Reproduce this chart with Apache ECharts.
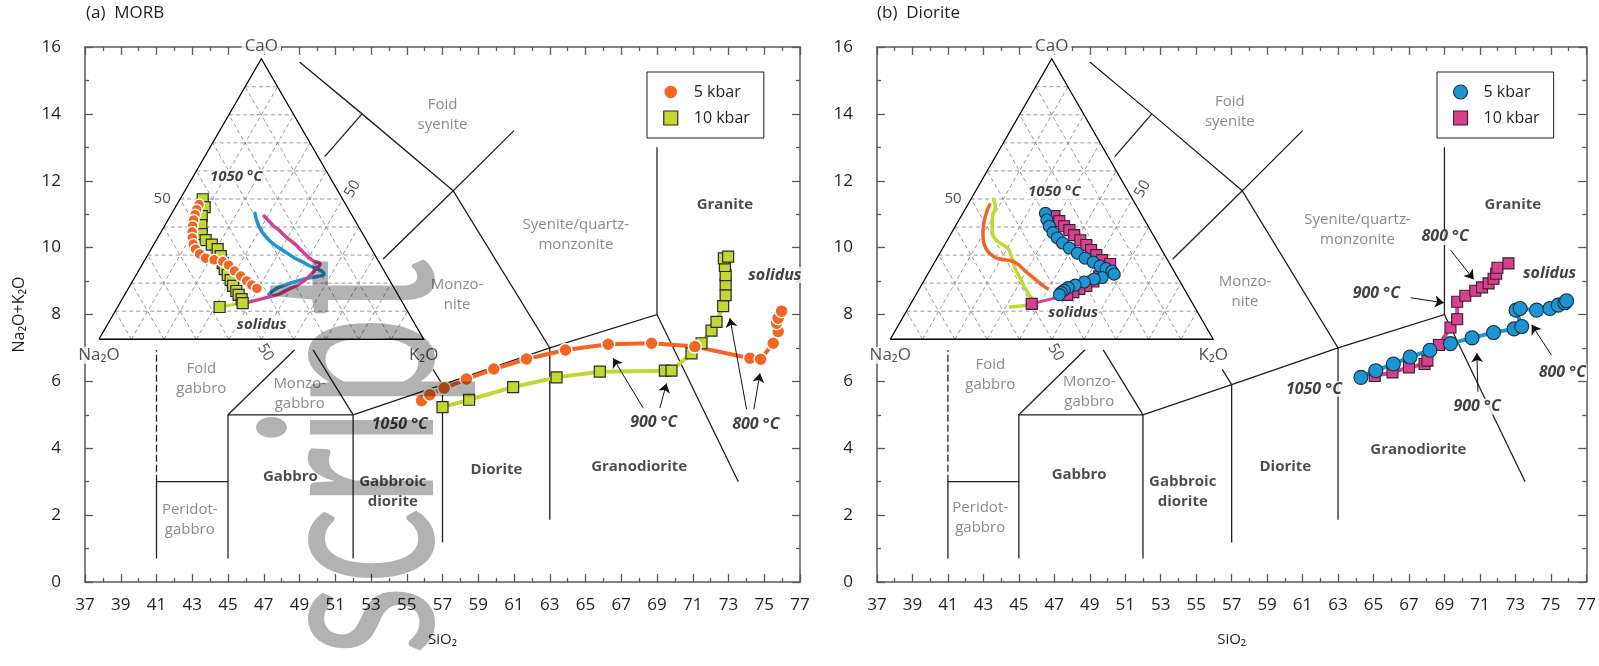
<!DOCTYPE html>
<html>
<head>
<meta charset="utf-8">
<title>Melt evolution on the plutonic TAS diagram</title>
<script src="https://cdn.jsdelivr.net/npm/echarts@6/dist/echarts.min.js"></script>
<style>
  html, body { margin: 0; padding: 0; background: #ffffff; }
  #chart { width: 1599px; height: 666px; }
</style>
</head>
<body>
<div id="chart"></div>
<script>
// ---------------- axis ticks ----------------
const silicaTicks = [37, 39, 41, 43, 45, 47, 49, 51, 53, 55, 57, 59, 61, 63, 65, 67, 69, 71, 73, 75, 77];
const silicaMinorTicks = [38, 40, 42, 44, 46, 48, 50, 52, 54, 56, 58, 60, 62, 64, 66, 68, 70, 72, 74, 76];
const alkaliRange = [0, 16];

// ---------------- melt compositions on the TAS plot: [SiO2 wt%, Na2O+K2O wt%] ----------------
const morb5kbar = [[55.83, 5.42], [56.29, 5.60], [57.09, 5.80], [58.34, 6.07], [59.87, 6.37], [61.70, 6.67],
  [63.88, 6.94], [66.27, 7.11], [68.70, 7.14], [71.12, 7.04], [74.20, 6.69], [74.80, 6.66], [75.50, 7.14],
  [75.78, 7.49], [75.69, 7.74], [75.78, 7.89], [75.97, 8.10]];
const morb10kbar = [[57.00, 5.23], [58.49, 5.45], [60.95, 5.83], [63.38, 6.12], [65.80, 6.29], [69.44, 6.32],
  [69.81, 6.32], [70.93, 6.84], [71.49, 7.14], [72.05, 7.52], [72.33, 7.78], [72.70, 8.25], [72.84, 8.58],
  [72.84, 8.90], [72.84, 9.18], [72.80, 9.45], [72.74, 9.68], [72.98, 9.73]];
const diorite5kbar = [[64.29, 6.12], [65.13, 6.32], [66.12, 6.52], [67.06, 6.73], [68.18, 6.93], [69.34, 7.13],
  [70.56, 7.30], [71.77, 7.46], [72.93, 7.57], [73.36, 7.64], [73.04, 8.13], [73.27, 8.18], [74.20, 8.13],
  [74.95, 8.18], [75.42, 8.28], [75.79, 8.35], [75.89, 8.41]];
const diorite10kbar = [[65.07, 6.16], [66.07, 6.27], [67.00, 6.42], [67.88, 6.52], [68.04, 6.62], [68.69, 7.09],
  [69.34, 7.61], [69.72, 7.86], [69.72, 8.38], [70.18, 8.56], [70.74, 8.71], [71.12, 8.81], [71.49, 8.93],
  [71.77, 9.07], [71.92, 9.22], [71.99, 9.40], [72.61, 9.53]];

// ---------------- melt compositions on the CaO-Na2O-K2O ternary: [CaO %, K2O %] (Na2O = rest) ----------------
const morb5kbarTern = [[48.0, 6.8], [46.2, 7.0], [44.4, 7.4], [42.5, 7.9], [40.3, 8.7], [38.2, 9.6], [36.1, 10.7],
  [33.9, 12.1], [32.1, 13.7], [30.4, 15.8], [28.9, 18.4], [28.3, 21.3], [27.7, 24.3], [26.4, 26.7], [24.3, 29.6],
  [22.5, 32.4], [20.8, 35.1], [19.3, 37.4], [18.1, 39.6]];
const morb10kbarTern = [[49.9, 7.0], [47.1, 9.0], [43.9, 9.7], [40.7, 11.2], [37.5, 12.9], [35.3, 15.2],
  [33.7, 17.9], [32.1, 20.5], [29.6, 22.7], [27.2, 24.5], [25.0, 26.2], [22.9, 28.2], [21.1, 30.0], [19.0, 31.8],
  [17.2, 33.7], [15.8, 35.1], [14.3, 36.8], [12.9, 37.8], [11.5, 31.4]];
const diorite5kbarTern = [[44.9, 25.6], [42.6, 27.2], [40.3, 29.1], [38.0, 31.4], [36.1, 33.7], [34.3, 36.2],
  [32.5, 39.2], [30.7, 42.6], [28.9, 45.9], [27.5, 49.1], [26.1, 51.9], [25.2, 54.2], [24.3, 56.5], [23.2, 57.7],
  [22.0, 54.6], [21.5, 52.4], [20.4, 49.9], [19.3, 47.6], [18.4, 45.9], [17.5, 45.1], [16.7, 44.6], [15.9, 44.4]];
const diorite10kbarTern = [[43.9, 28.9], [42.1, 31.3], [40.3, 33.7], [38.9, 36.0], [37.1, 38.4], [35.3, 41.2],
  [33.6, 43.9], [31.8, 46.3], [30.0, 48.8], [28.2, 51.5], [26.8, 54.7], [24.3, 54.1], [22.4, 53.5], [20.6, 52.6],
  [19.0, 51.2], [17.9, 49.6], [16.8, 48.3], [15.8, 46.9], [12.6, 37.5]];

// ---------------- field boundaries of the plutonic classification (SiO2, Na2O+K2O) ----------------
const fieldLines = [
  [[41, 0.7], [41, 3], [45, 3]],
  [[45, 0.7], [45, 5], [52, 5], [52, 0.7]],
  [[45, 5], [48.72, 6.94]],
  [[52, 5], [49.76, 6.94]],
  [[52, 5], [57, 5.9], [63, 7], [69, 8], [69, 13]],
  [[57, 1.18], [57, 5.9], [56.47, 6.36]],
  [[63, 1.86], [63, 7], [57.6, 11.7], [61, 13.5]],
  [[53.68, 9.66], [57.6, 11.7]],
  [[49, 15.55], [52.5, 14], [57.6, 11.7]],
  [[52.5, 14], [50.41, 12.72]],
  [[69, 8], [73.55, 3.0]]
];
const fieldDashed = [[[41, 3], [41, 6.94]]];

// ---------------- placement of the ternary inset inside each plot (axis units) ----------------
const TRI_A = { x0: 37.78, w: 18.17, y0: 7.26, h: 8.39 };
const TRI_B = { x0: 37.75, w: 18.21, y0: 7.26, h: 8.39 };

// ---------------- text annotations ----------------
const fieldNamesA = [
  { text: 'Foid\nsyenite', at: [57.0, 13.97], kind: 'field' },
  { text: 'Syenite/quartz-\nmonzonite', at: [64.46, 10.38], kind: 'field' },
  { text: 'Monzo-\nnite', at: [57.82, 8.58], kind: 'field' },
  { text: 'Granite', at: [72.8, 11.27], kind: 'fieldBold' },
  { text: 'Foid\ngabbro', at: [43.51, 6.09], kind: 'field' },
  { text: 'Monzo-\ngabbro', at: [49.01, 5.62], kind: 'field' },
  { text: 'Gabbro', at: [48.49, 3.14], kind: 'fieldBold' },
  { text: 'Gabbroic\ndiorite', at: [54.22, 2.70], kind: 'fieldBold' },
  { text: 'Peridot-\ngabbro', at: [42.86, 1.85], kind: 'field' },
  { text: 'Diorite', at: [60.02, 3.35], kind: 'fieldBold' },
  { text: 'Granodiorite', at: [68.0, 3.45], kind: 'fieldBold' }
];
const fieldNamesB = [
  { text: 'Foid\nsyenite', at: [56.9, 14.07], kind: 'field' },
  { text: 'Syenite/quartz-\nmonzonite', at: [64.1, 10.53], kind: 'field' },
  { text: 'Monzo-\nnite', at: [57.75, 8.68], kind: 'field' },
  { text: 'Granite', at: [72.86, 11.27], kind: 'fieldBold' },
  { text: 'Foid\ngabbro', at: [43.39, 6.19], kind: 'field' },
  { text: 'Monzo-\ngabbro', at: [48.97, 5.70], kind: 'field' },
  { text: 'Gabbro', at: [48.40, 3.21], kind: 'fieldBold' },
  { text: 'Gabbroic\ndiorite', at: [54.24, 2.69], kind: 'fieldBold' },
  { text: 'Peridot-\ngabbro', at: [42.82, 1.91], kind: 'field' },
  { text: 'Diorite', at: [60.03, 3.45], kind: 'fieldBold' },
  { text: 'Granodiorite', at: [67.53, 3.97], kind: 'fieldBold' }
];
const notesA = [
  { text: '1050 °C', at: [54.61, 4.70], kind: 'temp' },
  { text: '900 °C', at: [68.82, 4.76], kind: 'temp' },
  { text: '800 °C', at: [74.53, 4.70], kind: 'temp' },
  { text: 'solidus', at: [75.59, 9.18], kind: 'temp' },
  { text: '1050 °C', at: [45.46, 12.11], kind: 'ternTemp' },
  { text: 'solidus', at: [46.89, 7.69], kind: 'ternTemp' }
];
const notesB = [
  { text: '1050 °C', at: [61.64, 5.77], kind: 'temp' },
  { text: '900 °C', at: [65.16, 8.64], kind: 'temp' },
  { text: '800 °C', at: [69.04, 10.32], kind: 'temp' },
  { text: '900 °C', at: [70.84, 5.24], kind: 'temp' },
  { text: '800 °C', at: [75.65, 6.27], kind: 'temp' },
  { text: 'solidus', at: [74.93, 9.24], kind: 'temp' },
  { text: '1050 °C', at: [47.0, 11.67], kind: 'ternTemp' },
  { text: 'solidus', at: [48.07, 8.04], kind: 'ternTemp' }
];
const arrowsA = [
  [[68.23, 5.20], [66.55, 6.69]],
  [[69.16, 5.20], [69.53, 5.94]],
  [[74.01, 5.17], [73.08, 7.89]],
  [[74.42, 5.17], [74.76, 6.24]]
];
const arrowsB = [
  [[67.10, 8.50], [68.97, 8.35]],
  [[69.34, 9.93], [70.65, 9.05]],
  [[70.89, 5.69], [70.83, 6.84]],
  [[75.03, 6.79], [73.92, 7.69]]
];

// ---------------- styles ----------------
const FONT = '"Open Sans", "Noto Sans", "DejaVu Sans", sans-serif';
const INK = '#231f20';
const FRAME = '#58595b';
const ORANGE = '#f26522', GREEN = '#c3d631', BLUE = '#1e95d3', MAGENTA = '#d6418e';

const TEXT_KINDS = {
  field: { color: '#6d6e71', fontSize: 15, lineHeight: 20 },
  fieldBold: { color: INK, fontSize: 15, fontWeight: 'bold', lineHeight: 20 },
  temp: { color: '#111', fontSize: 16, fontWeight: 'bold', fontStyle: 'italic', backgroundColor: '#fff', padding: [0, 1] },
  ternTemp: { color: '#111', fontSize: 15, fontWeight: 'bold', fontStyle: 'italic', backgroundColor: '#fff', padding: [0, 1] },
  corner: { color: INK, fontSize: 17, backgroundColor: '#fff', padding: [0, 3] },
  tick: { color: INK, fontSize: 15 }
};

// ternary composition -> position in the plot's axis units
function tern(tri, p) {
  const ca = p[0], k = p[1];
  return [tri.x0 + (k + ca / 2) / 100 * tri.w, tri.y0 + ca / 100 * tri.h];
}

function ternaryGrid(tri) {
  const segs = [];
  for (let i = 10; i < 100; i += 10) {
    segs.push([tern(tri, [i, 0]), tern(tri, [i, 100 - i])]);          // constant CaO
    segs.push([tern(tri, [0, i]), tern(tri, [100 - i, i])]);          // constant K2O
    segs.push([tern(tri, [0, 100 - i]), tern(tri, [100 - i, 0])]);    // constant Na2O
  }
  return segs;
}

// label offsets are applied in the rotated frame of the label
function ternaryLabels(tri) {
  return [
    { text: 'CaO', at: tern(tri, [100, 0]), kind: 'corner', offset: [0, -13] },
    { text: 'Na₂O', at: tern(tri, [0, 0]), kind: 'corner', offset: [0, 16] },
    { text: 'K₂O', at: tern(tri, [0, 100]), kind: 'corner', offset: [0, 16] },
    { text: '50', at: tern(tri, [50, 0]), kind: 'tick', offset: [-18, 0] },
    { text: '50', at: tern(tri, [50, 50]), kind: 'tick', offset: [13.7, 3.7], rotate: 60 },
    { text: '50', at: tern(tri, [0, 50]), kind: 'tick', offset: [13.3, 3.0], rotate: -60 }
  ];
}

function textSeries(items, xi, yi, z) {
  return {
    type: 'scatter', xAxisIndex: xi, yAxisIndex: yi, z: z, silent: true,
    symbolSize: 1, itemStyle: { color: 'transparent' },
    emphasis: { disabled: true },
    data: items.map(it => ({
      value: it.at,
      label: Object.assign({
        show: true, position: 'inside', formatter: it.text, fontFamily: FONT, align: 'center',
        offset: it.offset || [0, 0], rotate: it.rotate || 0
      }, TEXT_KINDS[it.kind])
    }))
  };
}

function markerSeries(name, data, xi, yi, opts) {
  return {
    type: 'line', name: name, xAxisIndex: xi, yAxisIndex: yi, z: opts.z || 5,
    data: data, symbol: opts.symbol, symbolSize: opts.size, showSymbol: true, silent: true,
    emphasis: { disabled: true }, animation: false,
    lineStyle: { color: opts.color, width: opts.lineWidth },
    itemStyle: { color: opts.color, borderColor: opts.border, borderWidth: opts.borderWidth, opacity: 1 }
  };
}

function trendSeries(name, data, xi, yi, color) {
  return {
    type: 'line', name: name, xAxisIndex: xi, yAxisIndex: yi, z: 4, silent: true,
    data: data, smooth: 0.35, symbol: 'none', emphasis: { disabled: true },
    lineStyle: { color: color, width: 3.5, cap: 'round' }
  };
}

function frameSeries(xi, yi, tri) {
  const triangle = [tern(tri, [0, 0]), tern(tri, [0, 100]), tern(tri, [100, 0]), tern(tri, [0, 0])];
  return [
    {
      type: 'lines', coordinateSystem: 'cartesian2d', xAxisIndex: xi, yAxisIndex: yi, polyline: true,
      silent: true, z: 1, lineStyle: { color: INK, width: 1.3, opacity: 1 },
      data: fieldLines.map(c => ({ coords: c }))
        .concat(fieldDashed.map(c => ({ coords: c, lineStyle: { type: [7, 3], color: INK, width: 1.3, opacity: 1 } })))
    },
    {
      type: 'lines', coordinateSystem: 'cartesian2d', xAxisIndex: xi, yAxisIndex: yi, polyline: true,
      silent: true, z: 2, lineStyle: { color: '#8d8d8d', width: 0.9, type: [4, 3], opacity: 1 },
      data: ternaryGrid(tri).map(c => ({ coords: c }))
    },
    {
      type: 'lines', coordinateSystem: 'cartesian2d', xAxisIndex: xi, yAxisIndex: yi, polyline: true,
      silent: true, z: 3, lineStyle: { color: '#000', width: 1.3, opacity: 1 },
      data: [{ coords: triangle }]
    }
  ];
}

function arrowSeries(arrows, xi, yi) {
  return {
    type: 'lines', coordinateSystem: 'cartesian2d', xAxisIndex: xi, yAxisIndex: yi, z: 6, silent: true,
    symbol: ['none', 'arrow'], symbolSize: 9,
    lineStyle: { color: '#111', width: 1, opacity: 1, curveness: 0 },
    data: arrows.map(a => ({ coords: a }))
  };
}

// ---------------- axes ----------------
const tickLine = { color: FRAME, width: 1.3 };
function xAxesFor(g, withName) {
  const base = { gridIndex: g, type: 'value', min: 37, max: 77, splitLine: { show: false } };
  return [
    Object.assign({}, base, {
      position: 'bottom',
      axisLine: { show: true, onZero: false, lineStyle: { color: FRAME, width: 1.5 } },
      axisTick: { show: true, inside: true, length: 8, customValues: silicaTicks, lineStyle: tickLine },
      axisLabel: { show: true, customValues: silicaTicks, margin: 15, fontSize: 17, color: INK, fontFamily: FONT },
      name: withName ? 'SiO₂' : '', nameLocation: 'middle', nameGap: 50,
      nameTextStyle: { fontSize: 15, color: INK, fontFamily: FONT }
    }),
    Object.assign({}, base, {
      position: 'bottom', axisLine: { show: false, onZero: false },
      axisTick: { show: true, inside: true, length: 4, customValues: silicaMinorTicks, lineStyle: tickLine },
      axisLabel: { show: false }
    }),
    Object.assign({}, base, {
      position: 'top',
      axisLine: { show: true, onZero: false, lineStyle: { color: FRAME, width: 1.5 } },
      axisTick: { show: true, inside: true, length: 8, customValues: silicaTicks, lineStyle: tickLine },
      axisLabel: { show: false }
    }),
    Object.assign({}, base, {
      position: 'top', axisLine: { show: false, onZero: false },
      axisTick: { show: true, inside: true, length: 4, customValues: silicaMinorTicks, lineStyle: tickLine },
      axisLabel: { show: false }
    })
  ];
}
function yAxesFor(g, name) {
  const base = { gridIndex: g, type: 'value', min: alkaliRange[0], max: alkaliRange[1], interval: 2, splitLine: { show: false } };
  return [
    Object.assign({}, base, {
      position: 'left',
      axisLine: { show: true, onZero: false, lineStyle: { color: FRAME, width: 1.5 } },
      axisTick: { show: true, inside: true, length: 8, lineStyle: tickLine },
      minorTick: { show: true, splitNumber: 2, length: 4, lineStyle: tickLine },
      axisLabel: { show: true, margin: 24, fontSize: 17, color: INK, fontFamily: FONT },
      name: name, nameLocation: 'middle', nameGap: 58,
      nameTextStyle: { fontSize: 16, color: INK, fontFamily: FONT }
    }),
    Object.assign({}, base, {
      position: 'right',
      axisLine: { show: true, onZero: false, lineStyle: { color: FRAME, width: 1.5 } },
      axisTick: { show: true, inside: true, length: 8, lineStyle: tickLine },
      minorTick: { show: true, splitNumber: 2, length: 4, lineStyle: tickLine },
      axisLabel: { show: false }
    })
  ];
}

// ---------------- series ----------------
const A = { xi: 0, yi: 0, tri: TRI_A };
const B = { xi: 4, yi: 2, tri: TRI_B };
const toTern = (tri, arr) => arr.map(p => tern(tri, p));

const orangeMarker = { symbol: 'circle', size: 13, color: ORANGE, border: '#ffffff', borderWidth: 1.5, lineWidth: 4 };
const greenMarker = { symbol: 'rect', size: 11, color: GREEN, border: '#2b2b2b', borderWidth: 1.2, lineWidth: 4 };
const blueMarker = { symbol: 'circle', size: 14, color: BLUE, border: '#16304a', borderWidth: 1.1, lineWidth: 4 };
const magentaMarker = { symbol: 'rect', size: 11, color: MAGENTA, border: '#3a1f31', borderWidth: 1.1, lineWidth: 4 };
const small = (m, s) => Object.assign({}, m, { size: s, lineWidth: 3 });

const series = [].concat(
  // panel (a): MORB
  frameSeries(A.xi, A.yi, A.tri),
  trendSeries('diorite 5 kbar (ternary)', toTern(A.tri, diorite5kbarTern), A.xi, A.yi, BLUE),
  trendSeries('diorite 10 kbar (ternary)', toTern(A.tri, diorite10kbarTern), A.xi, A.yi, MAGENTA),
  markerSeries('MORB 10 kbar (ternary)', toTern(A.tri, morb10kbarTern), A.xi, A.yi, small(greenMarker, 11)),
  markerSeries('MORB 5 kbar (ternary)', toTern(A.tri, morb5kbarTern), A.xi, A.yi, small(orangeMarker, 11)),
  markerSeries('10 kbar', morb10kbar, A.xi, A.yi, greenMarker),
  markerSeries('5 kbar', morb5kbar, A.xi, A.yi, orangeMarker),
  arrowSeries(arrowsA, A.xi, A.yi),
  textSeries(fieldNamesA, A.xi, A.yi, 3),
  textSeries(ternaryLabels(A.tri), A.xi, A.yi, 4),
  textSeries(notesA, A.xi, A.yi, 4),
  // panel (b): diorite
  frameSeries(B.xi, B.yi, B.tri),
  trendSeries('MORB 10 kbar (ternary)', toTern(B.tri, morb10kbarTern), B.xi, B.yi, GREEN),
  trendSeries('MORB 5 kbar (ternary)', toTern(B.tri, morb5kbarTern), B.xi, B.yi, ORANGE),
  markerSeries('diorite 10 kbar (ternary)', toTern(B.tri, diorite10kbarTern), B.xi, B.yi, small(magentaMarker, 11)),
  markerSeries('diorite 5 kbar (ternary)', toTern(B.tri, diorite5kbarTern), B.xi, B.yi, small(blueMarker, 12)),
  markerSeries('10 kbar', diorite10kbar, B.xi, B.yi, magentaMarker),
  markerSeries('5 kbar', diorite5kbar, B.xi, B.yi, blueMarker),
  arrowSeries(arrowsB, B.xi, B.yi),
  textSeries(fieldNamesB, B.xi, B.yi, 3),
  textSeries(ternaryLabels(B.tri), B.xi, B.yi, 4),
  textSeries(notesB, B.xi, B.yi, 4)
);

function legendFor(left, m5, m10) {
  return {
    left: left, top: 72, orient: 'vertical', selectedMode: false,
    padding: [12, 14, 12, 16], itemGap: 10, itemWidth: 14, itemHeight: 14,
    borderColor: INK, borderWidth: 1, backgroundColor: '#fff',
    textStyle: { fontSize: 16, color: INK, fontFamily: FONT, padding: [0, 0, 0, 11] },
    data: [
      { name: '5 kbar', icon: m5.symbol, itemStyle: { color: m5.color, borderColor: m5.border, borderWidth: m5.borderWidth } },
      { name: '10 kbar', icon: m10.symbol, itemStyle: { color: m10.color, borderColor: m10.border, borderWidth: m10.borderWidth } }
    ]
  };
}

const option = {
  animation: false,
  backgroundColor: '#ffffff',
  textStyle: { fontFamily: FONT },
  title: [
    { text: '(a)  MORB', left: 86, top: 5, padding: 0, textStyle: { fontSize: 17, fontWeight: 'normal', color: INK, fontFamily: FONT } },
    { text: '(b)  Diorite', left: 877, top: 5, padding: 0, textStyle: { fontSize: 17, fontWeight: 'normal', color: INK, fontFamily: FONT } }
  ],
  grid: [
    { left: 85, top: 47, width: 715, height: 535 },
    { left: 877, top: 47, width: 713, height: 535 }
  ],
  xAxis: [].concat(xAxesFor(0, true), xAxesFor(1, true)),
  yAxis: [].concat(yAxesFor(0, 'Na₂O+K₂O'), yAxesFor(1, '')),
  legend: [
    legendFor(647, orangeMarker, greenMarker),
    legendFor(1437, blueMarker, magentaMarker)
  ],
  graphic: [{
    type: 'text', x: 355, y: 258, rotation: Math.PI / 2, scaleY: 1.48, z: 100, silent: true,
    style: {
      text: 'Manuscript', font: '164px Lato, "Open Sans", sans-serif', fill: 'rgba(0,0,0,0.3)',
      textAlign: 'right', textVerticalAlign: 'middle', align: 'right', verticalAlign: 'middle'
    }
  }],
  series: series
};

const chart = echarts.init(document.getElementById('chart'), null, { renderer: 'canvas' });
chart.setOption(option);
</script>
</body>
</html>
